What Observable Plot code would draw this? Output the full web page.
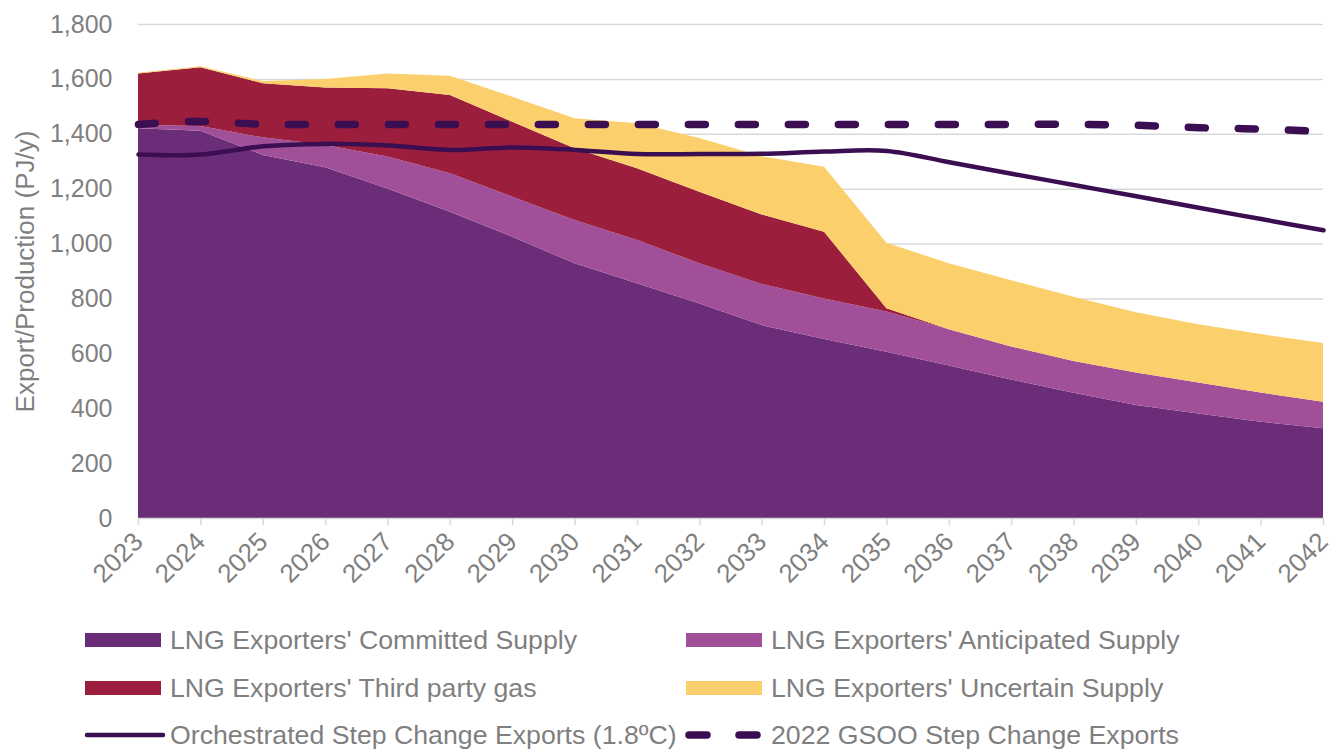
<!DOCTYPE html>
<html>
<head>
<meta charset="utf-8">
<script src="https://cdn.jsdelivr.net/npm/d3@7"></script>
<script src="https://cdn.jsdelivr.net/npm/@observablehq/plot@0.6"></script>
<style>
  html, body { margin: 0; padding: 0; background: #fff; }
  body { width: 1339px; height: 751px; position: relative; overflow: hidden; font-family: "Liberation Sans", Arial, sans-serif; }
  #chart { position: absolute; left: 0; top: 0; }
  #legend { position: absolute; left: 0; top: 600px; }
</style>
</head>
<body>
<div id="chart"></div>
<div id="legend"></div>
<script>
const years = [2023,2024,2025,2026,2027,2028,2029,2030,2031,2032,2033,2034,2035,2036,2037,2038,2039,2040,2041,2042];
const committed   = [1420,1411,1323,1278,1201,1116,1025,928,855,782,703,652,606,556,505,456,412,381,351,327];
const anticipated = [12,17,64,81,116,140,146,158,158,146,150,148,146,132,120,116,118,113,106,97];
const thirdParty  = [188,214,197,210,249,285,273,261,261,261,253,243,12,0,0,0,0,0,0,0];
const uncertain   = [2,4,8,31,54,70,91,110,164,196,212,237,239,240,241,234,220,212,213,214];
const orchestrated = [1326,1326,1356,1365,1359,1343,1352,1343,1328,1328,1329,1337,1339,1298,1256,1215,1174,1132,1091,1050];
const gsoo2022     = [1436,1447,1436,1436,1436,1436,1436,1436,1436,1436,1436,1436,1436,1436,1436,1436,1433,1424,1419,1410];
const yTicks = [0,200,400,600,800,1000,1200,1400,1600,1800];

const areaNames = ["LNG Exporters' Committed Supply","LNG Exporters' Anticipated Supply","LNG Exporters' Third party gas","LNG Exporters' Uncertain Supply"];
const areaColors = ["#6b2d78","#a14f99","#9b1f3d","#fbd06c"];
const lineNames = ["Orchestrated Step Change Exports (1.8ºC)","2022 GSOO Step Change Exports"];
const lineColor = "#3b0e52";

const areaSeries = [committed, anticipated, thirdParty, uncertain];
const areaData = [];
areaSeries.forEach((vals, i) => years.forEach((yr, j) => areaData.push({year: yr, series: areaNames[i], value: vals[j]})));
const orchData = years.map((yr, j) => ({year: yr, value: orchestrated[j]}));
const gsooData = years.map((yr, j) => ({year: yr, value: gsoo2022[j]}));

const chart = Plot.plot({
  width: 1339, height: 600,
  marginTop: 24, marginBottom: 82, marginLeft: 138, marginRight: 16,
  style: {fontFamily: "'Liberation Sans', Arial, sans-serif", fontSize: "22px", color: "#7f7f7f", background: "white", overflow: "visible"},
  x: {domain: [2023, 2042]},
  y: {domain: [0, 1800]},
  color: {domain: areaNames, range: areaColors},
  marks: [
    Plot.ruleY(yTicks.filter(d => d > 0), {stroke: "#d9d9d9", strokeWidth: 1.5}),
    Plot.areaY(areaData, {x: "year", y: "value", z: "series", fill: "series", curve: "linear"}),
    Plot.ruleY([0], {stroke: "#d9d9d9", strokeWidth: 1.5}),
    Plot.axisX({ticks: years, tickFormat: d => String(d), tickRotate: -45, tickSize: 7, stroke: "#d9d9d9", strokeWidth: 1.5, tickPadding: 12, fontSize: 26, label: null}),
    Plot.axisY({ticks: yTicks, tickFormat: d3.format(","), tickSize: 0, tickPadding: 26, fontSize: 25, label: null}),
    Plot.text(["Export/Production (PJ/y)"], {frameAnchor: "left", dx: -113, rotate: -90, fontSize: 26, textAnchor: "middle", fill: "#7f7f7f"}),
    Plot.line(orchData, {x: "year", y: "value", stroke: lineColor, strokeWidth: 4.5, curve: "catmull-rom"}),
    Plot.line(gsooData, {x: "year", y: "value", stroke: lineColor, strokeWidth: 7.5, strokeDasharray: "17,33", strokeLinecap: "round", curve: "catmull-rom"})
  ]
});
document.getElementById("chart").appendChild(chart);

// Legend
const lg = d3.select("#legend").append("svg").attr("width", 1339).attr("height", 151)
  .style("font-family", "'Liberation Sans', Arial, sans-serif");
const rowY = [40, 88, 135];
const colX = [85, 686];
const items = [
  {name: areaNames[0], type: "area", color: areaColors[0], row: 0, col: 0},
  {name: areaNames[1], type: "area", color: areaColors[1], row: 0, col: 1},
  {name: areaNames[2], type: "area", color: areaColors[2], row: 1, col: 0},
  {name: areaNames[3], type: "area", color: areaColors[3], row: 1, col: 1},
  {name: lineNames[0], type: "solid", row: 2, col: 0},
  {name: lineNames[1], type: "dash", row: 2, col: 1}
];
items.forEach(it => {
  const x0 = colX[it.col], y0 = rowY[it.row];
  if (it.type === "area") {
    lg.append("rect").attr("x", x0).attr("y", y0 - 7).attr("width", 76).attr("height", 14).attr("fill", it.color);
  } else if (it.type === "solid") {
    lg.append("line").attr("x1", x0 + 2).attr("x2", x0 + 78).attr("y1", y0).attr("y2", y0)
      .attr("stroke", lineColor).attr("stroke-width", 4.5).attr("stroke-linecap", "round");
  } else {
    lg.append("line").attr("x1", x0 + 3).attr("x2", x0 + 76).attr("y1", y0).attr("y2", y0)
      .attr("stroke", lineColor).attr("stroke-width", 7.5).attr("stroke-linecap", "round")
      .attr("stroke-dasharray", "18,32");
  }
  lg.append("text").attr("x", x0 + 85).attr("y", y0).attr("dy", "0.35em")
    .attr("font-size", 26.7).attr("fill", "#7f7f7f").text(it.name);
});
</script>
</body>
</html>
